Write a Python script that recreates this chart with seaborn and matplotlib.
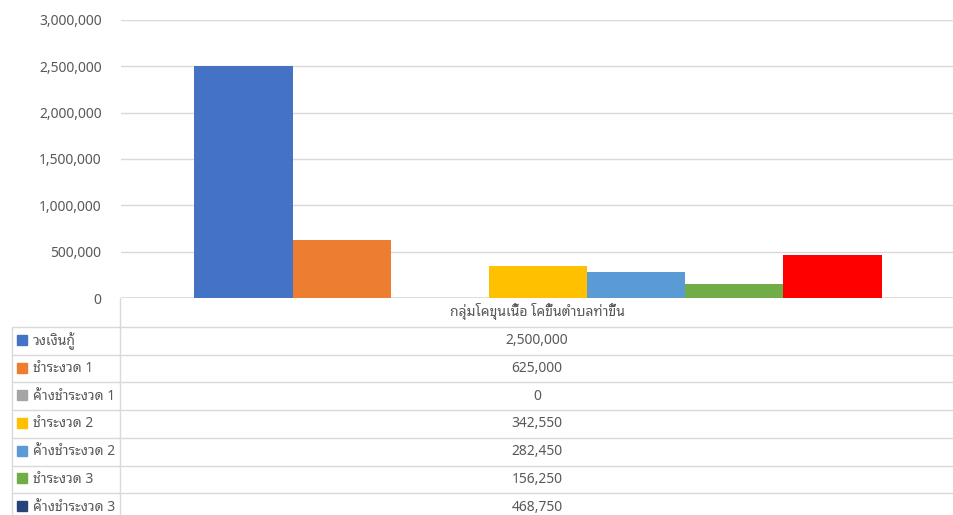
import matplotlib
matplotlib.use("Agg")
import matplotlib.pyplot as plt
import seaborn as sns
import pandas as pd
from matplotlib.ticker import FuncFormatter

# ── data ────────────────────────────────────────────────────────────────────
category = "กลุ่มโคขุนเนื้อ โคขึ้นตำบลท่าขึ้น"
series = ["วงเงินกู้", "ชำระงวด 1", "ค้างชำระงวด 1", "ชำระงวด 2",
          "ค้างชำระงวด 2", "ชำระงวด 3", "ค้างชำระงวด 3"]
values = [2500000, 625000, 0, 342550, 282450, 156250, 468750]
bar_colors = ["#4472C4", "#ED7D31", "#A5A5A5", "#FFC000",
              "#5B9BD5", "#70AD47", "#FF0000"]
key_colors = ["#4472C4", "#ED7D31", "#A5A5A5", "#FFC000",
              "#5B9BD5", "#70AD47", "#264478"]
yticks = [0, 500000, 1000000, 1500000, 2000000, 2500000, 3000000]

df = pd.DataFrame({"cat": [category] * len(series), "series": series, "value": values})

sns.set_theme(style="white")
plt.rcParams["font.family"] = ["Noto Sans Thai Looped", "DejaVu Sans"]

TXT = "#595959"
GRID = "#d9d9d9"
W, H = 954, 515
FS = 10

fig = plt.figure(figsize=(W / 100, H / 100), dpi=100)

# ── bar chart ───────────────────────────────────────────────────────────────
ax = fig.add_axes([121 / W, 1 - 298 / H, (W - 120) / W, 278 / H])
sns.barplot(data=df, x="cat", y="value", hue="series", hue_order=series,
            palette=bar_colors, width=0.824, ax=ax, legend=False,
            saturation=1, edgecolor="none")
ax.set_xlim(-0.5, 0.5)
ax.set_ylim(0, 3000000)
ax.set_yticks(yticks)
ax.yaxis.set_major_formatter(FuncFormatter(lambda v, p: f"{int(v):,}"))
ax.tick_params(axis="y", length=0, pad=14, labelsize=FS, labelcolor=TXT)
ax.set_xticks([])
ax.set_xlabel("")
ax.set_ylabel("")
ax.grid(axis="y", color=GRID, lw=1)
ax.set_axisbelow(True)
for s in ax.spines.values():
    s.set_visible(False)
ax.axhline(0, color=GRID, lw=1.2, zorder=0)

# ── data table ──────────────────────────────────────────────────────────────
tab = fig.add_axes([0, 0, 1, 1], zorder=-1)
tab.set_xlim(0, W)
tab.set_ylim(H, 0)
tab.axis("off")

row_h = 27.7
top = 327
tab.plot([120, 120], [298, H], color=GRID, lw=1)
tab.plot([12, 12], [top, H], color=GRID, lw=1)
tab.text(537, 312, category, ha="center", va="center", fontsize=FS, color=TXT)
for i, (name, val, col) in enumerate(zip(series, values, key_colors)):
    y0 = top + i * row_h
    tab.plot([12, W], [y0, y0], color=GRID, lw=1)
    yc = y0 + row_h / 2
    tab.add_patch(plt.Rectangle((17, yc - 6), 10, 10, color=col))
    tab.text(33, yc, name, ha="left", va="center", fontsize=FS, color=TXT)
    tab.text(537, yc, f"{val:,}", ha="center", va="center", fontsize=FS, color=TXT)

fig.savefig("out.png", dpi=100)
